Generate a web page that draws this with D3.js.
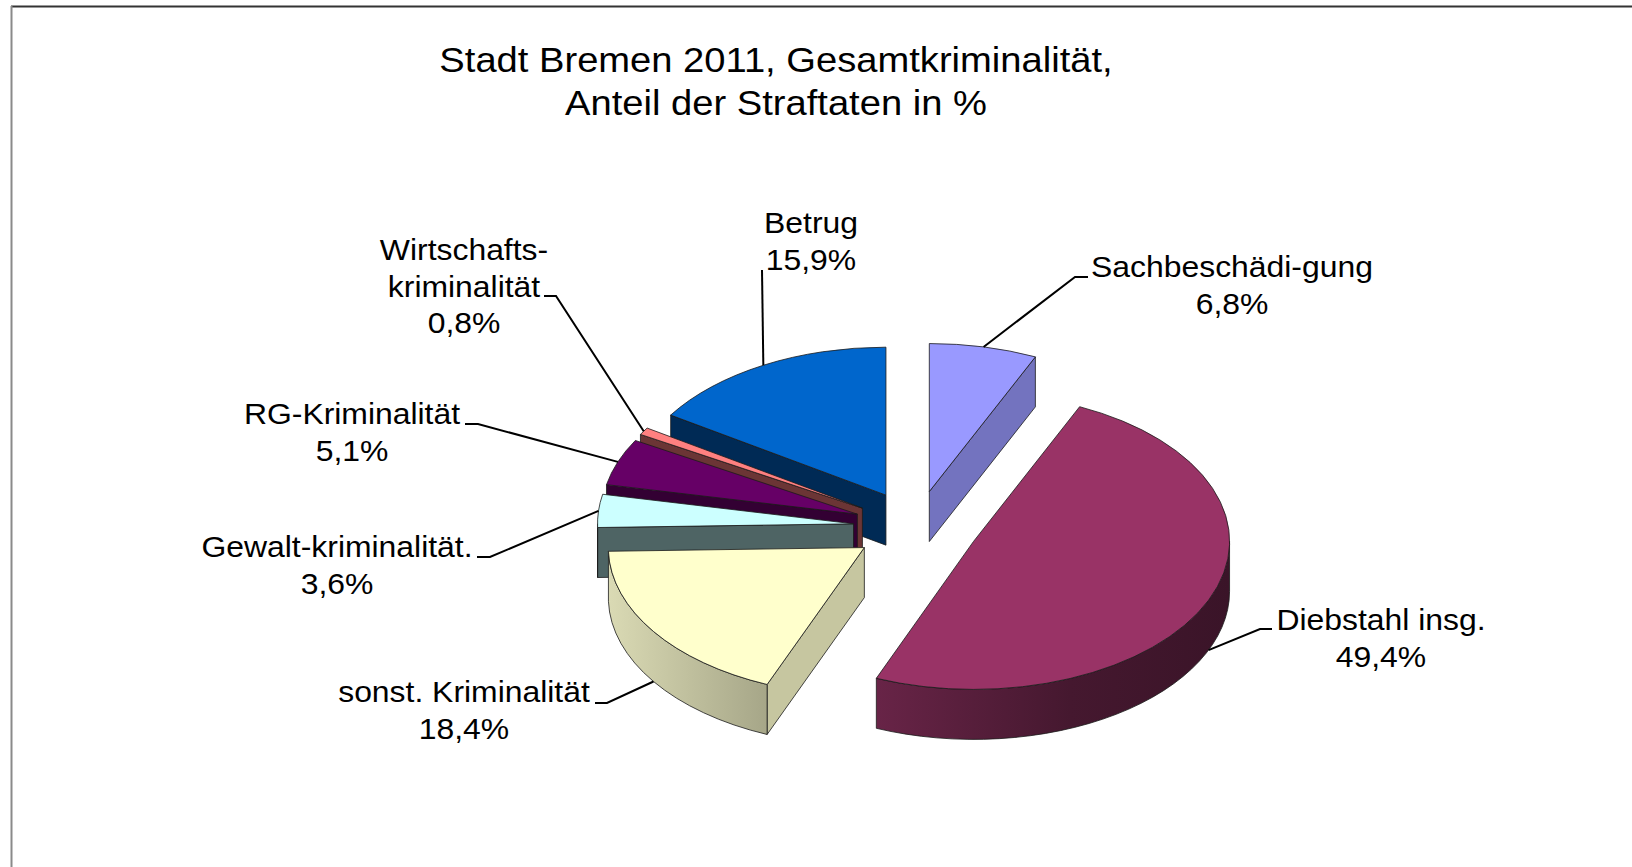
<!DOCTYPE html>
<html>
<head>
<meta charset="utf-8">
<script src="https://cdn.jsdelivr.net/npm/d3@7/dist/d3.min.js"></script>
<style>
  html, body { margin: 0; padding: 0; background: #fff; }
  svg { display: block; }
  text { font-family: Arial, "Liberation Sans", sans-serif; fill: #000; }
</style>
</head>
<body>
<svg id="chart" width="1632" height="867"></svg>
<script>
// ---------- data ----------
const titleLines = ["Stadt Bremen 2011, Gesamtkriminalität,", "Anteil der Straftaten in %"];
const categories = ["Sachbeschädi-gung", "Diebstahl insg.", "sonst. Kriminalität", "Gewalt-kriminalität.", "RG-Kriminalität", "Wirtschafts-\nkriminalität", "Betrug"];
const values = [6.8, 49.4, 18.4, 3.6, 5.1, 0.8, 15.9];

// ---------- styles ----------
const topColors  = ["#9999FF", "#993366", "#FFFFCC", "#CCFFFF", "#660066", "#FF8080", "#0066CC"];
const sideColors = ["#7373BF", "#4A1A33", "#C6C6A0", "#4E6464", "#330033", "#6B3535", "#002A55"];
const rimStops = [
  [["0", "#7373BF"], ["1", "#7373BF"]],
  [["0", "#682447"], ["0.55", "#45182F"], ["1", "#3A1428"]],
  [["0", "#DADAB4"], ["1", "#A6A688"]],
  [["0", "#4E6464"], ["1", "#4E6464"]],
  [["0", "#330033"], ["1", "#330033"]],
  [["0", "#6B3535"], ["1", "#6B3535"]],
  [["0", "#002A55"], ["1", "#002A55"]]
];

// ---------- layout ----------
const CX = 916, CY = 527, RX = 256, RY = 148, DEPTH = 50, EXPLODE = 0.245;
const LABEL_FONT = 29, LABEL_SX = 1.1, LINE_H = 36.5;
const labelPos = [[1232, 277], [1381, 630], [464, 702], [337, 557], [352, 424], [464, 260], [811, 233]];
const leaderStart = [
  [[1088, 277], [1075, 277]],
  [[1272, 629], [1260, 629]],
  [[595, 703], [607, 703]],
  [[477, 557], [490, 557]],
  [[465, 424], [478, 424]],
  [[544, 296], [556, 296]],
  [[762, 270]]
];

const svg = d3.select("#chart");
const defs = svg.append("defs");

// frame
svg.append("line").attr("x1", 11).attr("y1", 6.5).attr("x2", 1632).attr("y2", 6.5)
  .attr("stroke", "#333").attr("stroke-width", 2);
svg.append("line").attr("x1", 11.5).attr("y1", 6).attr("x2", 11.5).attr("y2", 867)
  .attr("stroke", "#8a8a8a").attr("stroke-width", 2);

// title
titleLines.forEach((t, i) => {
  svg.append("text")
    .attr("transform", `translate(776,${72 + i * 43}) scale(1.09,1)`)
    .attr("text-anchor", "middle")
    .attr("font-size", 35)
    .text(t);
});

// pie layout
const arcs = d3.pie().sort(null).value(d => d)(values);

const sx = Math.sin, cs = Math.cos;
function rim(c, a, dy = 0) { return [c[0] + RX * sx(a), c[1] - RY * cs(a) + dy]; }
function pt(p) { return p[0].toFixed(2) + "," + p[1].toFixed(2); }

const slices = arcs.map((d, i) => {
  const mid = (d.startAngle + d.endAngle) / 2;
  const c = [CX + EXPLODE * RX * sx(mid), CY - EXPLODE * RY * cs(mid)];
  return { d, i, mid, c };
});

// painter's order: back to front
const order = slices.slice().sort((a, b) => (-cs(a.mid)) - (-cs(b.mid)));

const g = svg.append("g");
const strokeCol = "#1a1a1a";

order.forEach(s => {
  const { d, i, c } = s;
  const a0 = d.startAngle, a1 = d.endAngle;
  const sg = g.append("g");
  const cD = [c[0], c[1] + DEPTH];

  // radial faces
  const faceAt = a => {
    const p = rim(c, a), pD = rim(c, a, DEPTH);
    sg.append("path")
      .attr("d", `M${pt(c)}L${pt(p)}L${pt(pD)}L${pt(cD)}Z`)
      .attr("fill", sideColors[i])
      .attr("stroke", strokeCol).attr("stroke-width", 0.8).attr("stroke-linejoin", "round");
  };
  if (sx(a0) < -1e-6) faceAt(a0);
  if (sx(a1) > 1e-6) faceAt(a1);

  // outer rim (front half)
  const r0 = Math.max(a0, Math.PI / 2), r1 = Math.min(a1, 3 * Math.PI / 2);
  if (r1 > r0) {
    const p0 = rim(c, r0), p1 = rim(c, r1), p1D = rim(c, r1, DEPTH), p0D = rim(c, r0, DEPTH);
    const large = (r1 - r0) > Math.PI ? 1 : 0;
    const xs = d3.range(0, 41).map(k => rim(c, r0 + (r1 - r0) * k / 40)[0]);
    const gid = "rimg" + i;
    const lg = defs.append("linearGradient").attr("id", gid)
      .attr("gradientUnits", "userSpaceOnUse")
      .attr("x1", d3.min(xs)).attr("x2", d3.max(xs)).attr("y1", 0).attr("y2", 0);
    rimStops[i].forEach(st => lg.append("stop").attr("offset", st[0]).attr("stop-color", st[1]));
    sg.append("path")
      .attr("d", `M${pt(p0)}A${RX},${RY} 0 ${large} 1 ${pt(p1)}L${pt(p1D)}A${RX},${RY} 0 ${large} 0 ${pt(p0D)}Z`)
      .attr("fill", `url(#${gid})`)
      .attr("stroke", strokeCol).attr("stroke-width", 0.8).attr("stroke-linejoin", "round");
  }

  // top face
  const t0 = rim(c, a0), t1 = rim(c, a1);
  const largeT = (a1 - a0) > Math.PI ? 1 : 0;
  sg.append("path")
    .attr("d", `M${pt(c)}L${pt(t0)}A${RX},${RY} 0 ${largeT} 1 ${pt(t1)}Z`)
    .attr("fill", topColors[i])
    .attr("stroke", strokeCol).attr("stroke-width", 0.8).attr("stroke-linejoin", "round");
});

// leader lines
const fmt = v => v.toFixed(1).replace(".", ",") + "%";
slices.forEach(s => {
  const { i, mid, c } = s;
  const anchor = rim(c, mid, cs(mid) < 0 ? DEPTH : 0);
  const pts = leaderStart[i].concat([anchor]);
  svg.append("path")
    .attr("d", d3.line()(pts))
    .attr("fill", "none").attr("stroke", "#000").attr("stroke-width", 2);
});

// labels
slices.forEach(s => {
  const { i } = s;
  const lines = categories[i].split("\n").concat([fmt(values[i])]);
  lines.forEach((t, k) => {
    svg.append("text")
      .attr("transform", `translate(${labelPos[i][0]},${labelPos[i][1] + k * LINE_H}) scale(${LABEL_SX},1)`)
      .attr("text-anchor", "middle")
      .attr("font-size", LABEL_FONT)
      .text(t);
  });
});
</script>
</body>
</html>
